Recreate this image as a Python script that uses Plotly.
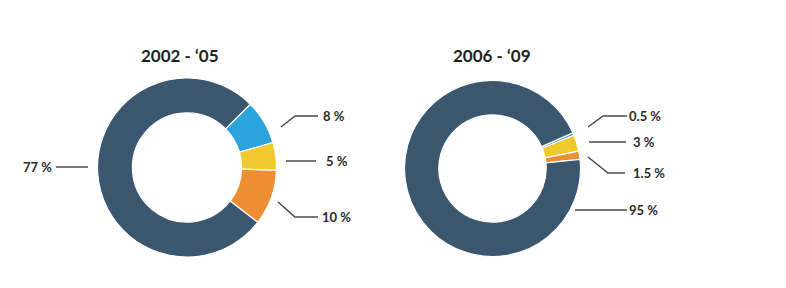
import plotly.graph_objects as go

W, H = 786, 288

categories = ["Blue", "Yellow", "Orange", "Dark"]
values_0205 = [8, 5, 10, 77]
values_0609 = [0.5, 3, 1.5, 95]
labels_0205 = ["8 %", "5 %", "10 %", "77 %"]
labels_0609 = ["0.5 %", "3 %", "1.5 %", "95 %"]
titles = ["2002 - \u201805", "2006 - \u201809"]
colors = ["#2ba3dc", "#f0c92d", "#ee8e33", "#3b5770"]

def px(x):
    return x / W

def py(y):
    return 1 - y / H

fig = go.Figure()

# pie geometry in pixels: (cx, cy, r), rotation
pies = [
    (values_0205, (187, 167.5, 89.5), 45),
    (values_0609, (492.5, 168.5, 88), 66),
]
for vals, (cx, cy, r), rot in pies:
    fig.add_trace(go.Pie(
        labels=categories, values=vals, sort=False, direction="clockwise",
        rotation=rot, hole=0.61, textinfo="none", hoverinfo="label+value",
        marker=dict(colors=colors, line=dict(color="white", width=1.2)),
        domain=dict(x=[px(cx - r), px(cx + r)], y=[py(cy + r), py(cy - r)]),
        showlegend=False,
    ))

# leader line paths (pixel layout) and label anchors
leaders_left = [
    ([(281, 127), (295, 116), (318, 116)], (321, 116), "left"),
    ([(286, 161), (316, 161)], (324, 161), "left"),
    ([(278, 202), (295, 217), (318, 217)], (320, 217), "left"),
    ([(88, 167), (56, 167)], (54, 167), "right"),
]
leaders_right = [
    ([(588, 127), (603, 116), (627, 116)], (627, 116), "left"),
    ([(589, 142), (626, 142)], (631, 142), "left"),
    ([(588, 157), (608, 173), (625, 173)], (631, 173), "left"),
    ([(575, 210), (627, 210)], (627, 210), "left"),
]

line_color = "#4a4a4a"
font_lbl = dict(family="Lato, 'Open Sans', sans-serif", size=13, color="#2b2b2b")

def add_leaders(leaders, texts):
    for (pts, (tx, ty), side), txt in zip(leaders, texts):
        path = "M " + " L ".join(f"{px(x)},{py(y)}" for x, y in pts)
        fig.add_shape(type="path", path=path, xref="paper", yref="paper",
                      line=dict(color=line_color, width=1.5))
        fig.add_annotation(x=px(tx), y=py(ty), xref="paper", yref="paper",
                           text=f"<b>{txt}</b>", showarrow=False,
                           xanchor=side, yanchor="middle", font=font_lbl)

add_leaders(leaders_left, labels_0205)
add_leaders(leaders_right, labels_0609)

for (tx, ty), t in zip([(180, 55), (492, 55)], titles):
    fig.add_annotation(x=px(tx), y=py(ty), xref="paper", yref="paper",
                       text=f"<b>{t}</b>", showarrow=False,
                       xanchor="center", yanchor="middle",
                       font=dict(family="Lato, 'Open Sans', sans-serif", size=17, color="#222222"))

fig.update_layout(
    width=W, height=H, margin=dict(l=0, r=0, t=0, b=0),
    paper_bgcolor="white", plot_bgcolor="white",
)

fig.write_html("out.html")
